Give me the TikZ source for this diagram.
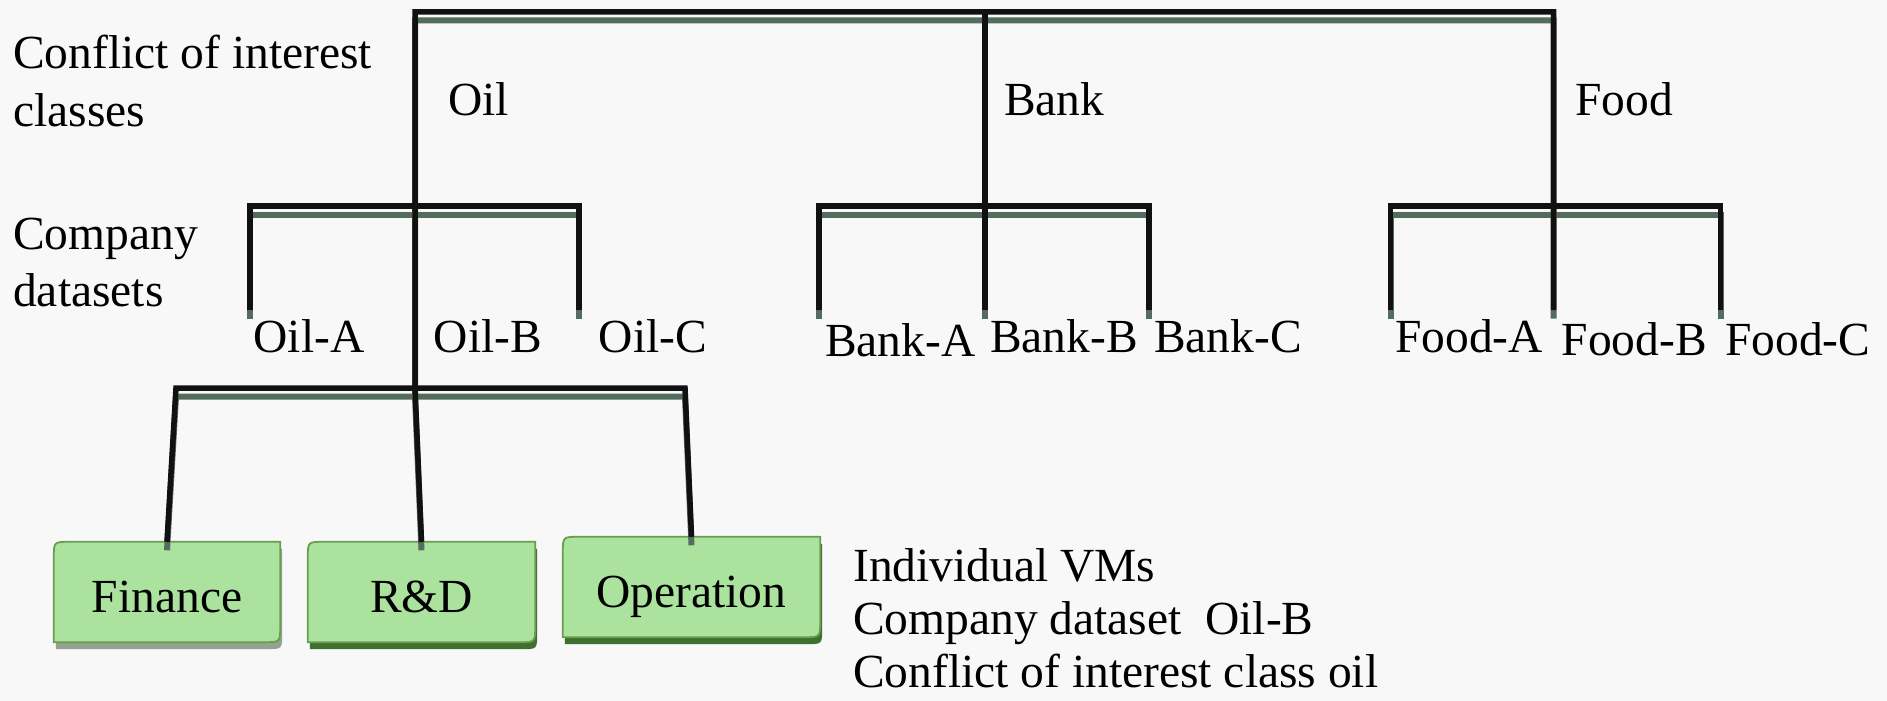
\documentclass[tikz,border=0pt]{standalone}
\usepackage{fontspec}
\setmainfont{Liberation Serif}
\usetikzlibrary{calc}
\pgfdeclarelayer{bg}
\pgfsetlayers{bg,main}
\definecolor{bgc}{RGB}{248,248,248}
\definecolor{lnshadow}{RGB}{84,108,94}
\definecolor{lnblack}{RGB}{17,17,17}
\definecolor{boxfillc}{RGB}{171,227,158}
\definecolor{boxline}{RGB}{104,158,78}
\definecolor{boxshadow}{RGB}{64,112,48}
\definecolor{boxshadowgray}{RGB}{150,162,145}
\newcommand\vmbox[2]{%
 \begin{pgfonlayer}{bg}
 \path[fill=#2] let \p1=(#1.north west), \p2=(#1.south east) in
  (\x1+2pt,\y2-7pt) -- (\x1+2pt,\y1-23pt) .. controls (\x1+2pt,\y1-7pt) .. (\x1+18pt,\y1-7pt)
  -- (\x2+2pt,\y1-7pt) -- (\x2+2pt,\y2+9pt) .. controls (\x2+2pt,\y2-7pt) .. (\x2-14pt,\y2-7pt) -- cycle;
 \path[fill=boxfillc, draw=boxline, line width=1.8pt] let \p1=(#1.north west), \p2=(#1.south east) in
  (\x1,\y2) -- (\x1,\y1-16pt) .. controls (\x1,\y1) .. (\x1+16pt,\y1)
  -- (\x2,\y1) -- (\x2,\y2+16pt) .. controls (\x2,\y2) .. (\x2-16pt,\y2) -- cycle;
 \end{pgfonlayer}}
\newcommand\connpaths[1]{%
 \draw[#1] (rd.north) -- (vmJ) -- (tOil) -- (tFood) -- (eFoodB);
 \draw[#1] (tBank) -- (eBankB);
 \draw[#1] (eOilA) |- (oilJ) -| (eOilC);
 \draw[#1] (eBankA) |- (bankJ) -| (eBankC);
 \draw[#1] (eFoodA) |- (foodJ) -| (eFoodC);
 \draw[#1] (fin.north) -- (vmL) -- (vmR) -- (op.north);}
\begin{document}
\begin{tikzpicture}[x=1pt,y=-1pt,
 lbl/.style={anchor=base west, inner sep=0pt, font=\fontsize{47.5}{57}\selectfont},
 conn/.style={draw=lnblack, line width=5.5pt, line join=miter},
 connsh/.style={draw=lnshadow, line width=6pt, line join=miter, transform canvas={yshift=-8.5pt}},
 vmnode/.style={inner sep=0pt, minimum height=100pt, text height=40pt, text depth=0pt, font=\fontsize{47.5}{57}\selectfont}]
\begin{pgfonlayer}{bg}
\fill[bgc] (0,0) rectangle (1887,701);
\end{pgfonlayer}
\useasboundingbox (0,0) rectangle (1887,701);
% junction coordinates
\coordinate (tOil) at (415,12);
\coordinate (tBank) at (985,12);
\coordinate (tFood) at (1553.5,12);
\coordinate (oilJ) at (415,206);
\coordinate (bankJ) at (985,206);
\coordinate (foodJ) at (1553.5,206);
\coordinate (eOilA) at (250,310);
\coordinate (eOilC) at (579,310);
\coordinate (eBankA) at (819,310);
\coordinate (eBankB) at (985,310);
\coordinate (eBankC) at (1149,310);
\coordinate (eFoodA) at (1390.5,310);
\coordinate (eFoodB) at (1553.5,310);
\coordinate (eFoodC) at (1720.5,310);
\coordinate (vmJ) at (415,388);
\coordinate (vmL) at (176,388);
\coordinate (vmR) at (685,388);
% labels
\node[lbl] (coi1) at (13,69) {Conflict of interest};
\node[lbl] (coi2) at (13,126) {classes};
\node[lbl] (cd1) at (13,249) {Company};
\node[lbl] (cd2) at (13,306) {datasets};
\node[lbl] (oil) at (448,115) {Oil};
\node[lbl] (bank) at (1004,115) {Bank};
\node[lbl] (food) at (1575,115) {Food};
\node[lbl] (oilA) at (253.5,352) {Oil-A};
\node[lbl] (oilB) at (433.5,352) {Oil-B};
\node[lbl] (oilC) at (598.5,352) {Oil-C};
\node[lbl] (bankA) at (825,356) {Bank-A};
\node[lbl] (bankB) at (990,352) {Bank-B};
\node[lbl] (bankC) at (1154,352) {Bank-C};
\node[lbl] (foodA) at (1395,352) {Food-A};
\node[lbl] (foodB) at (1561.5,355) {Food-B};
\node[lbl] (foodC) at (1725,355) {Food-C};
\node[lbl] (note1) at (853,581) {Individual VMs};
\node[lbl] (note2) at (853,634) {Company dataset~~Oil-B};
\node[lbl] (note3) at (853,687) {Conflict of interest class oil};
% VM boxes
\node[vmnode, minimum width=226pt] (fin) at (167,592) {Finance};
\node[vmnode, minimum width=227pt] (rd) at (421.5,592) {R\&D};
\node[vmnode, minimum width=257pt] (op) at (691.5,587) {Operation};
\vmbox{fin}{boxshadowgray}
\vmbox{rd}{boxshadow}
\vmbox{op}{boxshadow}
% connectors
\connpaths{connsh}
\connpaths{conn}
\end{tikzpicture}
\end{document}
